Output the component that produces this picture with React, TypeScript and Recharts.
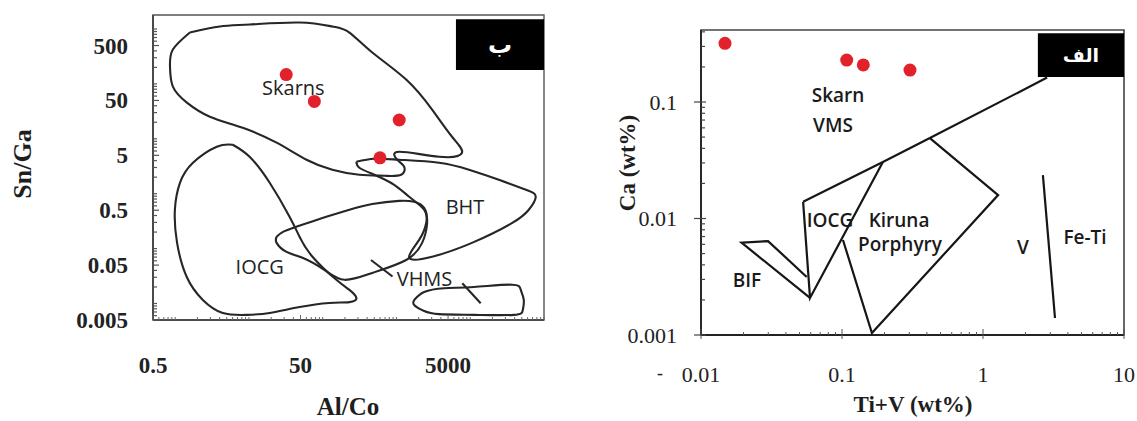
import { ReferenceArea, Scatter, ScatterChart, XAxis, YAxis } from 'recharts';

/**
 * Panel ب (left): Sn/Ga vs Al/Co discrimination fields
 */
const SKARNS_FIELD = [
  { x: 1.58, y: 863 }, { x: 4.02, y: 1111 }, { x: 10.2, y: 1208 }, { x: 48.5, y: 1315 },
  { x: 135, y: 1111 }, { x: 230, y: 863 }, { x: 470, y: 373 }, { x: 1352, y: 120 },
  { x: 3040, y: 34 }, { x: 5662, y: 10.9 }, { x: 7728, y: 5.57 }, { x: 3776, y: 4.71 },
  { x: 1089, y: 5.82 }, { x: 1023, y: 4.16 }, { x: 1271, y: 3.1 }, { x: 1158, y: 2.21 },
  { x: 683, y: 2.12 }, { x: 314, y: 2.21 }, { x: 135, y: 2.73 }, { x: 60.3, y: 4.16 },
  { x: 23.7, y: 8.49 }, { x: 8.23, y: 15.9 }, { x: 2.95, y: 25.3 }, { x: 1.44, y: 45.6 },
  { x: 0.93, y: 89.3 }, { x: 0.85, y: 207 }, { x: 0.93, y: 423 }, { x: 1.58, y: 863 },
];

const IOCG_FIELD = [
  { x: 6.03, y: 7.8 }, { x: 10.2, y: 4.71 }, { x: 19.1, y: 1.58 }, { x: 35.5, y: 0.38 },
  { x: 48.5, y: 0.164 }, { x: 72.6, y: 0.071 }, { x: 153, y: 0.027 }, { x: 230, y: 0.0177 },
  { x: 286, y: 0.0126 }, { x: 230, y: 0.0106 }, { x: 123, y: 0.0102 }, { x: 48.5, y: 0.0086 },
  { x: 19.1, y: 0.0067 }, { x: 9.32, y: 0.0062 }, { x: 4.42, y: 0.0067 }, { x: 2.37, y: 0.0116 },
  { x: 1.44, y: 0.03 }, { x: 1.06, y: 0.127 }, { x: 0.99, y: 0.51 }, { x: 1.16, y: 1.58 },
  { x: 1.74, y: 3.66 }, { x: 3.66, y: 7.17 }, { x: 6.03, y: 7.8 },
];

const VHMS_FIELD = [
  { x: 23.7, y: 0.164 }, { x: 28.6, y: 0.2 }, { x: 44.2, y: 0.25 }, { x: 99.1, y: 0.36 },
  { x: 230, y: 0.51 }, { x: 470, y: 0.65 }, { x: 1089, y: 0.74 }, { x: 1737, y: 0.71 },
  { x: 2371, y: 0.55 }, { x: 2600, y: 0.29 }, { x: 2227, y: 0.127 }, { x: 1352, y: 0.062 },
  { x: 470, y: 0.036 }, { x: 197, y: 0.027 }, { x: 105, y: 0.041 }, { x: 53.2, y: 0.068 },
  { x: 32.3, y: 0.087 }, { x: 23.7, y: 0.127 }, { x: 23.7, y: 0.164 },
];

const BHT_FIELD = [
  { x: 286, y: 3.82 }, { x: 500, y: 4.33 }, { x: 1089, y: 4.16 }, { x: 3776, y: 3.66 },
  { x: 9616, y: 2.73 }, { x: 24435, y: 1.79 }, { x: 56600, y: 1.18 }, { x: 77300, y: 0.88 },
  { x: 62200, y: 0.51 }, { x: 36640, y: 0.29 }, { x: 10545, y: 0.127 }, { x: 3040, y: 0.071 },
  { x: 1485, y: 0.068 }, { x: 2028, y: 0.144 }, { x: 2524, y: 0.29 }, { x: 2371, y: 0.51 },
  { x: 1485, y: 0.88 }, { x: 931, y: 1.45 }, { x: 500, y: 2.21 }, { x: 314, y: 2.97 },
  { x: 286, y: 3.82 },
];

const PILL_FIELD = [
  { x: 1737, y: 0.0116 }, { x: 2371, y: 0.0162 }, { x: 4416, y: 0.019 }, { x: 11220, y: 0.02 },
  { x: 36640, y: 0.022 }, { x: 48450, y: 0.0177 }, { x: 53200, y: 0.0116 }, { x: 51600, y: 0.0076 },
  { x: 38990, y: 0.0062 }, { x: 11220, y: 0.0062 }, { x: 3776, y: 0.0064 }, { x: 2371, y: 0.0073 },
  { x: 1737, y: 0.0094 }, { x: 1737, y: 0.0116 },
];

const VHMS_LEADER_A = [{ x: 451, y: 0.062 }, { x: 883, y: 0.031 }];
const VHMS_LEADER_B = [{ x: 7800, y: 0.0234 }, { x: 13840, y: 0.0101 }];

const LEFT_SAMPLES = [
  { x: 32, y: 148 },
  { x: 77, y: 48 },
  { x: 1089, y: 22 },
  { x: 597, y: 4.5 },
];

const LEFT_LABELS = [
  { x: 40, y: 84, text: 'Skarns' },
  { x: 14, y: 0.047, text: 'IOCG' },
  { x: 8490, y: 0.58, text: 'BHT' },
  { x: 2400, y: 0.028, text: 'VHMS' },
];

const LEFT_X_LABELS = [0.5, 50, 5000];
const LEFT_Y_LABELS = [0.005, 0.05, 0.5, 5, 50, 500];

/**
 * Panel الف (right): Ca vs Ti+V discrimination fields
 */
const MAIN_BOUNDARY = [
  { x: 0.053, y: 0.0139 }, { x: 0.195, y: 0.0305 }, { x: 0.42, y: 0.049 }, { x: 2.85, y: 0.162 },
];
const IOCG_WEDGE = [{ x: 0.053, y: 0.0139 }, { x: 0.0593, y: 0.00208 }, { x: 0.195, y: 0.0305 }];
const BIF_WEDGE = [
  { x: 0.0562, y: 0.00315 }, { x: 0.0299, y: 0.0064 }, { x: 0.0194, y: 0.0062 }, { x: 0.0593, y: 0.00208 },
];
const KIRUNA_FIELD = [
  { x: 0.1016, y: 0.00654 }, { x: 0.163, y: 0.00104 }, { x: 1.28, y: 0.0159 }, { x: 0.42, y: 0.049 },
];
const FE_TI_DIVIDE = [{ x: 2.66, y: 0.0236 }, { x: 3.24, y: 0.0014 }];

const RIGHT_SAMPLES = [
  { x: 0.0148, y: 0.319 },
  { x: 0.108, y: 0.229 },
  { x: 0.1416, y: 0.208 },
  { x: 0.3035, y: 0.188 },
];

const RIGHT_LABELS = [
  { x: 0.0937, y: 0.1148, text: 'Skarn' },
  { x: 0.0863, y: 0.0635, text: 'VMS' },
  { x: 0.0822, y: 0.0097, text: 'IOCG' },
  { x: 0.254, y: 0.0097, text: 'Kiruna' },
  { x: 0.258, y: 0.00604, text: 'Porphyry' },
  { x: 0.0212, y: 0.00297, text: 'BIF' },
  { x: 1.92, y: 0.00569, text: 'V' },
  { x: 5.29, y: 0.00694, text: 'Fe-Ti' },
];

const RIGHT_X_LABELS = [0.01, 0.1, 1, 10];
const RIGHT_Y_LABELS = [0.001, 0.01, 0.1];

const SERIF = "'Liberation Serif', 'Times New Roman', serif";
const SANS = "'Open Sans', sans-serif";
const DOT_RED = '#e2222a';

/**
 * Log tick positions (major + minor) inside a range
 */
function logTicks(lo: number, hi: number): number[] {
  const out: number[] = [];
  for (let e = Math.floor(Math.log10(lo)); e <= Math.ceil(Math.log10(hi)); e++) {
    for (let m = 1; m <= 9; m++) {
      const v = Number((m * 10 ** e).toPrecision(6));
      if (v >= lo * 0.999 && v <= hi * 1.001) out.push(v);
    }
  }
  return out;
}

function isLabelled(value: number, labels: number[]): boolean {
  return labels.some((l) => Math.abs(l - value) / l < 1e-6);
}

const noDot = () => <g />;

function redDot(props: any) {
  return <circle cx={props.cx} cy={props.cy} r={6.5} fill={DOT_RED} />;
}

function leftLabel(props: any) {
  return (
    <text x={props.cx} y={props.cy} dy="0.35em" textAnchor="middle" fontFamily={SANS} fontSize={20} fontWeight={500} fill="#222">
      {props.payload.text}
    </text>
  );
}

function rightLabel(props: any) {
  return (
    <text x={props.cx} y={props.cy} dy="0.35em" textAnchor="middle" fontFamily={SANS} fontSize={19} fontWeight={600} fill="#1a1a1a">
      {props.payload.text}
    </text>
  );
}

function LeftXTick({ x, y, payload }: any) {
  const major = isLabelled(payload.value, LEFT_X_LABELS);
  return (
    <g>
      <line x1={x} x2={x} y1={y} y2={y - (major ? 5 : 3)} stroke="#666" />
      {major && (
        <text x={x} y={y + 53} textAnchor="middle" fontFamily={SERIF} fontWeight={700} fontSize={23} fill="#222">
          {String(payload.value)}
        </text>
      )}
    </g>
  );
}

function LeftYTick({ x, y, payload }: any) {
  const major = isLabelled(payload.value, LEFT_Y_LABELS);
  return (
    <g>
      <line x1={x} x2={x + (major ? 6 : 4)} y1={y} y2={y} stroke="#555" strokeWidth={1.2} />
      {major && (
        <text x={x - 25} y={y} dy="0.35em" textAnchor="end" fontFamily={SERIF} fontWeight={700} fontSize={23} fill="#222">
          {String(payload.value)}
        </text>
      )}
    </g>
  );
}

function RightXTick({ x, y, payload }: any) {
  const major = isLabelled(payload.value, RIGHT_X_LABELS);
  return (
    <g>
      <line x1={x} x2={x} y1={y + (major ? 4 : 0)} y2={y - (major ? 6 : 3)} stroke="#555" />
      {major && (
        <text x={x} y={y + 47} textAnchor="middle" fontFamily={SERIF} fontSize={22} fill="#222">
          {String(payload.value)}
        </text>
      )}
    </g>
  );
}

function RightYTick({ x, y, payload }: any) {
  const major = isLabelled(payload.value, RIGHT_Y_LABELS);
  return (
    <g>
      <line x1={x - (major ? 7 : 0)} x2={x + (major ? 5 : 4)} y1={y} y2={y} stroke="#444" strokeWidth={1.2} />
      {major && (
        <text x={x - 24} y={y} dy="0.35em" textAnchor="end" fontFamily={SERIF} fontSize={22} fill="#222">
          {String(payload.value)}
        </text>
      )}
    </g>
  );
}

const LEFT_X_DOMAIN: [number, number] = [0.5, 100000];
const LEFT_Y_DOMAIN: [number, number] = [0.005, 1800];
const RIGHT_X_DOMAIN: [number, number] = [0.01, 10];
const RIGHT_Y_DOMAIN: [number, number] = [0.001, 0.415];

const leftStroke = { stroke: '#262626', strokeWidth: 2.1, fill: 'none' };
const rightStroke = { stroke: '#161616', strokeWidth: 2.2, fill: 'none' };

function LeftPanel() {
  return (
    <ScatterChart width={570} height={421} margin={{ top: 15, right: 26, bottom: 71, left: 113 }}>
      <XAxis
        type="number"
        dataKey="x"
        scale="log"
        domain={LEFT_X_DOMAIN}
        allowDataOverflow
        ticks={logTicks(0.5, 100000)}
        interval={0}
        tickSize={0}
        tickMargin={0}
        tickLine={false}
        tick={(p: any) => <LeftXTick {...p} />}
        height={30}
        axisLine={{ stroke: '#3a3a3a', strokeWidth: 1.6 }}
      />
      <YAxis
        type="number"
        dataKey="y"
        scale="log"
        domain={LEFT_Y_DOMAIN}
        allowDataOverflow
        ticks={logTicks(0.005, 1800)}
        interval={0}
        tickSize={0}
        tickMargin={0}
        tickLine={false}
        tick={(p: any) => <LeftYTick {...p} />}
        width={40}
        axisLine={{ stroke: '#3a3a3a', strokeWidth: 1.6 }}
      />
      <ReferenceArea x1={LEFT_X_DOMAIN[0]} x2={LEFT_X_DOMAIN[1]} y1={LEFT_Y_DOMAIN[0]} y2={LEFT_Y_DOMAIN[1]} fill="none" stroke="#555" strokeWidth={1.4} />
      <Scatter data={SKARNS_FIELD} line={leftStroke} lineJointType="natural" shape={noDot} isAnimationActive={false} />
      <Scatter data={IOCG_FIELD} line={leftStroke} lineJointType="natural" shape={noDot} isAnimationActive={false} />
      <Scatter data={VHMS_FIELD} line={leftStroke} lineJointType="natural" shape={noDot} isAnimationActive={false} />
      <Scatter data={BHT_FIELD} line={leftStroke} lineJointType="natural" shape={noDot} isAnimationActive={false} />
      <Scatter data={PILL_FIELD} line={leftStroke} lineJointType="natural" shape={noDot} isAnimationActive={false} />
      <Scatter data={VHMS_LEADER_A} line={leftStroke} shape={noDot} isAnimationActive={false} />
      <Scatter data={VHMS_LEADER_B} line={leftStroke} shape={noDot} isAnimationActive={false} />
      <Scatter data={LEFT_LABELS} shape={leftLabel} isAnimationActive={false} />
      <Scatter data={LEFT_SAMPLES} shape={redDot} isAnimationActive={false} />
      <ReferenceArea
        x1={6400}
        x2={LEFT_X_DOMAIN[1]}
        y1={180}
        y2={1500}
        fill="#000"
        fillOpacity={1}
        stroke="none"
        label={{ value: 'ب', position: 'center', fill: '#fff', fontSize: 24, fontWeight: 700, fontFamily: "'DejaVu Sans', sans-serif" }}
      />
    </ScatterChart>
  );
}

function RightPanel() {
  return (
    <ScatterChart width={567} height={421} margin={{ top: 30, right: 13, bottom: 56, left: 91 }}>
      <XAxis
        type="number"
        dataKey="x"
        scale="log"
        domain={RIGHT_X_DOMAIN}
        allowDataOverflow
        ticks={logTicks(0.01, 10)}
        interval={0}
        tickSize={0}
        tickMargin={0}
        tickLine={false}
        tick={(p: any) => <RightXTick {...p} />}
        height={30}
        axisLine={{ stroke: '#222', strokeWidth: 1.8 }}
      />
      <YAxis
        type="number"
        dataKey="y"
        scale="log"
        domain={RIGHT_Y_DOMAIN}
        allowDataOverflow
        ticks={logTicks(0.001, 0.4)}
        interval={0}
        tickSize={0}
        tickMargin={0}
        tickLine={false}
        tick={(p: any) => <RightYTick {...p} />}
        width={40}
        axisLine={{ stroke: '#222', strokeWidth: 1.8 }}
      />
      <ReferenceArea x1={RIGHT_X_DOMAIN[0]} x2={RIGHT_X_DOMAIN[1]} y1={RIGHT_Y_DOMAIN[0]} y2={RIGHT_Y_DOMAIN[1]} fill="none" stroke="#444" strokeWidth={1.6} />
      <Scatter data={MAIN_BOUNDARY} line={rightStroke} shape={noDot} isAnimationActive={false} />
      <Scatter data={IOCG_WEDGE} line={rightStroke} shape={noDot} isAnimationActive={false} />
      <Scatter data={BIF_WEDGE} line={rightStroke} shape={noDot} isAnimationActive={false} />
      <Scatter data={KIRUNA_FIELD} line={rightStroke} shape={noDot} isAnimationActive={false} />
      <Scatter data={FE_TI_DIVIDE} line={rightStroke} shape={noDot} isAnimationActive={false} />
      <Scatter data={RIGHT_LABELS} shape={rightLabel} isAnimationActive={false} />
      <Scatter data={RIGHT_SAMPLES} shape={redDot} isAnimationActive={false} />
      <ReferenceArea
        x1={2.45}
        x2={RIGHT_X_DOMAIN[1]}
        y1={0.164}
        y2={0.39}
        fill="#000"
        fillOpacity={1}
        stroke="none"
        label={{ value: 'الف', position: 'center', fill: '#fff', fontSize: 19, fontWeight: 700, fontFamily: "'DejaVu Sans', sans-serif" }}
      />
    </ScatterChart>
  );
}

const titleStyle = {
  position: 'absolute' as const,
  fontFamily: SERIF,
  fontWeight: 700,
  color: '#1e1e1e',
  whiteSpace: 'nowrap' as const,
  lineHeight: 1,
};

export default function App() {
  return (
    <div style={{ position: 'absolute', left: 0, top: 0, width: 1137, height: 421, background: '#fff', overflow: 'hidden' }}>
      <div style={{ position: 'absolute', left: 0, top: 0 }}>
        <LeftPanel />
      </div>
      <div style={{ position: 'absolute', left: 570, top: 0 }}>
        <RightPanel />
      </div>
      {/* axis titles */}
      <div style={{ ...titleStyle, fontSize: 26, left: 23, top: 164, transform: 'translate(-50%, -50%) rotate(-90deg)' }}>Sn/Ga</div>
      <div style={{ ...titleStyle, fontSize: 25, left: 348, top: 406, transform: 'translate(-50%, -50%)' }}>Al/Co</div>
      <div style={{ ...titleStyle, fontSize: 23, left: 627, top: 163, transform: 'translate(-50%, -50%) rotate(-90deg)' }}>Ca (wt%)</div>
      <div style={{ ...titleStyle, fontSize: 23, left: 913, top: 404, transform: 'translate(-50%, -50%)' }}>Ti+V (wt%)</div>
      <div style={{ ...titleStyle, fontWeight: 400, fontSize: 18, left: 660, top: 373, transform: 'translate(-50%, -50%)' }}>-</div>
    </div>
  );
}
